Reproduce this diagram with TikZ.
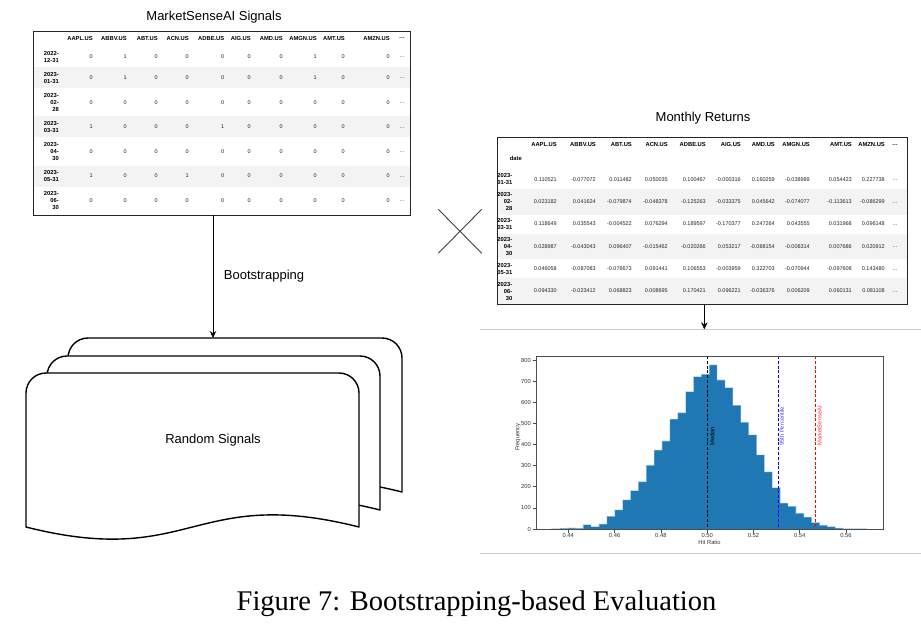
\documentclass[tikz,border=0pt]{standalone}
\usepackage{fontspec}
\setmainfont{Liberation Sans}
\newfontfamily\capfont{Liberation Serif}
\usetikzlibrary{arrows.meta}
\definecolor{barblue}{HTML}{1F77B4}
\definecolor{baredge}{HTML}{A9CBE6}
\definecolor{stripe}{HTML}{F3F3F3}
\definecolor{sepgray}{HTML}{CCCCCC}
\def\lcols{{93,127,158,189,224.5,251,283,317,345,390}}
\def\rcols{{557,596,632,668,706,741,775,810,852,885}}
\newcommand\sigrow[3]{%
  \foreach \v [count=\i] in {#3} {%
    \pgfmathsetmacro\cx{\lcols[\i-1]}%
    \node[val] (lv#1-\i) at (\cx,#2) {\v};
  }%
  \node[val] (lv#1-x) at (405,#2+1) {…};
}
\newcommand\retrow[3]{%
  \foreach \v [count=\i] in {#3} {%
    \pgfmathsetmacro\cx{\rcols[\i-1]}%
    \node[val] (rv#1-\i) at (\cx,#2) {\v};
  }%
  \node[val] (rv#1-x) at (898,#2+1) {…};
}
\newcommand\docshape[3]{%
  \draw[doc] (#1,#2+154) -- (#1,#2+20) .. controls (#1,#2+8.96) and (#1+8.96,#2) .. (#1+20,#2)
    -- (#1+#3-20,#2) .. controls (#1+#3-8.96,#2) and (#1+#3,#2+8.96) .. (#1+#3,#2+20)
    -- (#1+#3,#2+154) .. controls (#1+#3/2,#2+112) and (#1+#3/2,#2+196) .. (#1,#2+154) -- cycle;
}
\begin{document}
\begin{tikzpicture}[x=1pt,y=-1pt,
  hdr/.style={font=\fontsize{5.8}{7}\selectfont\bfseries, anchor=east, inner sep=0pt},
  val/.style={font=\fontsize{5.5}{7}\selectfont, anchor=east, inner sep=0pt, text=black!85},
  dt/.style={font=\fontsize{5.8}{7}\selectfont\bfseries, align=right, anchor=east, inner sep=0pt},
  ttl/.style={font=\fontsize{13}{15}\selectfont, inner sep=0pt},
  tbl/.style={draw=black!85, line width=0.9, anchor=north west, inner sep=0pt},
  arr/.style={line width=0.9, -{Stealth[length=7,width=6.5]}},
  doc/.style={draw=black, line width=1.4, fill=white, line join=round},
  tick/.style={font=\fontsize{5.8}{7}\selectfont, inner sep=0pt, text=black!80},
  vline/.style={line width=1.1, dash pattern=on 3pt off 1.8pt},
  axisline/.style={draw=black!70, line width=0.7},
]
\useasboundingbox (0,0) rectangle (921,624);
\fill[white] (0,0) rectangle (921,624);

% ---------- left table ----------
\node[ttl] (sigtitle) at (214,17) {MarketSenseAI Signals};
\fill[stripe] (33,67.1) rectangle (410,88.2);
\fill[stripe] (33,116.3) rectangle (410,137.4);
\fill[stripe] (33,165.5) rectangle (410,186.6);
\node[tbl, minimum width=377, minimum height=183.5] (sig) at (33,31) {};
\foreach \n [count=\i] in {AAPL.US,ABBV.US,ABT.US,ACN.US,ADBE.US,AIG.US,AMD.US,AMGN.US,AMT.US,AMZN.US} {
  \pgfmathsetmacro\cx{\lcols[\i-1]}
  \node[hdr] (lh\i) at (\cx,38.5) {\n};
}
\node[hdr] (lhx) at (405,38.5) {…};
\node[dt] (ld1) at (59,56.6) {2022-\\12-31};
\node[dt] (ld2) at (59,77.7) {2023-\\01-31};
\node[dt] (ld3) at (59,102.3) {2023-\\02-\\28};
\node[dt] (ld4) at (59,126.9) {2023-\\03-31};
\node[dt] (ld5) at (59,151.5) {2023-\\04-\\30};
\node[dt] (ld6) at (59,176.1) {2023-\\05-31};
\node[dt] (ld7) at (59,200.7) {2023-\\06-\\30};
\sigrow{1}{56.6}{0,1,0,0,0,0,0,1,0,0}
\sigrow{2}{77.7}{0,1,0,0,0,0,0,1,0,0}
\sigrow{3}{102.3}{0,0,0,0,0,0,0,0,0,0}
\sigrow{4}{126.9}{1,0,0,0,1,0,0,0,0,0}
\sigrow{5}{151.5}{0,0,0,0,0,0,0,0,0,0}
\sigrow{6}{176.1}{1,0,0,1,0,0,0,0,0,0}
\sigrow{7}{200.7}{0,0,0,0,0,0,0,0,0,0}

% ---------- random signals ----------
\docshape{68}{338}{334}
\docshape{47}{356}{333}
\docshape{26}{373}{333}
\coordinate (bk) at (213,338);
\node[ttl] (rs) at (213,440) {Random Signals};
\draw[arr] (sig.south -| bk) -- (bk);
\node[ttl] (boot) at (264,276) {Bootstrapping};

% ---------- cross ----------
\draw[black!75, line width=0.9] (438.3,209.3) -- (481.7,253.3) (481.7,209.3) -- (438.3,253.3);

% ---------- right table ----------
\node[ttl] (rettitle) at (703,118) {Monthly Returns};
\fill[stripe] (497,188.83) rectangle (907,214.67);
\fill[stripe] (497,233.5) rectangle (907,259.33);
\fill[stripe] (497,278.17) rectangle (907,304);
\node[tbl, minimum width=410, minimum height=167] (ret) at (497,137) {};
\foreach \n [count=\i] in {AAPL.US,ABBV.US,ABT.US,ACN.US,ADBE.US,AIG.US,AMD.US,AMGN.US,AMT.US,AMZN.US} {
  \pgfmathsetmacro\cx{\rcols[\i-1]}
  \node[hdr] (rh\i) at (\cx,145) {\n};
}
\node[hdr] (rhx) at (898,145) {…};
\node[hdr] (rdate) at (522,158) {date};
\node[dt] (rd1) at (512.5,179.4) {2023-\\01-31};
\node[dt] (rd2) at (512.5,201.75) {2023-\\02-\\28};
\node[dt] (rd3) at (512.5,224.1) {2023-\\03-31};
\node[dt] (rd4) at (512.5,246.4) {2023-\\04-\\30};
\node[dt] (rd5) at (512.5,268.75) {2023-\\05-31};
\node[dt] (rd6) at (512.5,291.1) {2023-\\06-\\30};
\retrow{1}{179.4}{0.110521,-0.077072,0.011482,0.050035,0.100467,-0.000316,0.160259,-0.038989,0.054423,0.227738}
\retrow{2}{201.75}{0.023182,0.041624,-0.079874,-0.048378,-0.125263,-0.033375,0.045642,-0.074077,-0.113613,-0.086299}
\retrow{3}{224.1}{0.118649,0.035543,-0.004522,0.076294,0.189597,-0.170377,0.247264,0.043555,0.031968,0.096148}
\retrow{4}{246.4}{0.028987,-0.043043,0.096407,-0.015462,-0.020266,0.053217,-0.088154,-0.008314,0.007686,0.020912}
\retrow{5}{268.75}{0.046058,-0.087083,-0.076673,0.091441,0.106553,-0.003959,0.322703,-0.070944,-0.097608,0.143480}
\retrow{6}{291.1}{0.094330,-0.023412,0.068823,0.008695,0.170421,0.096221,-0.036376,0.006209,0.060131,0.081108}

% ---------- histogram ----------
\node[minimum width=441, minimum height=223.5, anchor=north west, inner sep=0pt] (hist) at (480,329.3) {};
\draw[sepgray, line width=0.8] (hist.north west) -- (hist.north east);
\draw[sepgray, line width=0.8] (hist.south west) -- (hist.south east);
\coordinate (histtop) at (704.3,329.3);
\draw[arr] (ret.south -| histtop) -- (histtop);

\foreach \h [count=\i] in {2,3,5,3,21,11,23,60,91,138,182,224,302,374,417,521,551,651,722,733,778,706,670,586,506,446,351,271,196,123,107,74,56,31,17,11,4,2,1,2} {
  \fill[barblue] ({551.7+7.88*(\i-1)},529) rectangle ({551.7+7.88*\i},{529-0.211*\h});
}
\draw[baredge, line width=0.6] (551.7,529)
  \foreach \h [count=\i] in {2,3,5,3,21,11,23,60,91,138,182,224,302,374,417,521,551,651,722,733,778,706,670,586,506,446,351,271,196,123,107,74,56,31,17,11,4,2,1,2} {
    -- ({551.7+7.88*(\i-1)},{529-0.211*\h}) -- ({551.7+7.88*\i},{529-0.211*\h})
  } -- (866.9,529);

\draw[vline, black] (707.8,356) -- (707.8,529);
\draw[vline, blue] (778.2,356) -- (778.2,529);
\draw[vline, red] (815.5,356) -- (815.5,529);
\node[tick, rotate=90, anchor=north west, text=black] (lmed) at (710,446) {Median};
\node[tick, rotate=90, anchor=north west, text=blue!75] (lp95) at (779.5,446) {95th Percentile};
\node[tick, rotate=90, anchor=north west, text=red!80] (lmsai) at (817.2,446) {MarketSenseAI};

\draw[axisline] (536,356) rectangle (883,529);
\foreach \v [count=\i] in {0,100,200,300,400,500,600,700,800} {
  \draw[axisline] (536,{529-21.1*(\i-1)}) -- (532.5,{529-21.1*(\i-1)});
  \node[tick, anchor=east] (yt\i) at (531,{529-21.1*(\i-1)}) {\v};
}
\foreach \v [count=\i] in {0.44,0.46,0.48,0.50,0.52,0.54,0.56} {
  \draw[axisline] ({568.3+46.28*(\i-1)},529) -- ({568.3+46.28*(\i-1)},532.5);
  \node[tick, anchor=north] (xt\i) at ({568.3+46.28*(\i-1)},533.5) {\v};
}
\node[tick, rotate=90] (ylab) at (518,437) {Frequency};
\node[tick] (xlab) at (709.5,542) {Hit Ratio};

% ---------- caption ----------
\node[font=\capfont\fontsize{28.5}{32}\selectfont, inner sep=0pt] (cap) at (476.5,604) {Figure 7: Bootstrapping-based Evaluation};
\end{tikzpicture}
\end{document}
